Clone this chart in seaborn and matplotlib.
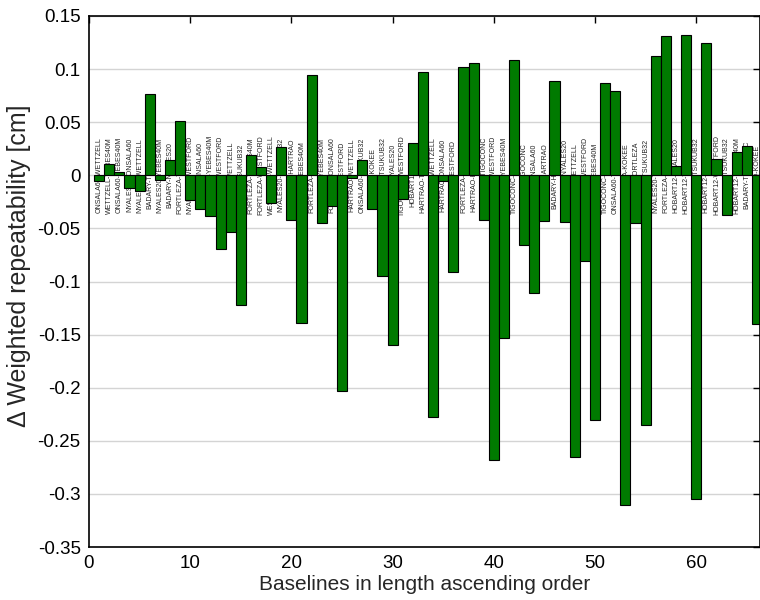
import numpy as np
import pandas as pd
import matplotlib
matplotlib.use("Agg")
import matplotlib.pyplot as plt
import seaborn as sns

# Baselines (sorted by length) and the change in weighted repeatability [cm]
baselines = [
    "ONSALA60-WETTZELL", "WETTZELL-YEBES40M", "ONSALA60-YEBES40M", "NYALES20-ONSALA60",
    "NYALES20-WETTZELL", "BADARY-TSUKUB32", "NYALES20-YEBES40M", "BADARY-NYALES20",
    "FORTLEZA-TIGOCONC", "NYALES20-WESTFORD", "BADARY-ONSALA60", "WESTFORD-YEBES40M",
    "ONSALA60-WESTFORD", "BADARY-WETTZELL", "KOKEE-TSUKUB32", "FORTLEZA-YEBES40M",
    "FORTLEZA-WESTFORD", "WESTFORD-WETTZELL", "NYALES20-TSUKUB32", "FORTLEZA-HARTRAO",
    "BADARY-YEBES40M", "FORTLEZA-WETTZELL", "HARTRAO-YEBES40M", "FORTLEZA-ONSALA60",
    "KOKEE-WESTFORD", "HARTRAO-WETTZELL", "ONSALA60-TSUKUB32", "BADARY-KOKEE",
    "HOBART12-TSUKUB32", "KOKEE-NYALES20", "TIGOCONC-WESTFORD", "HOBART12-KOKEE",
    "HARTRAO-TIGOCONC", "TSUKUB32-WETTZELL", "HARTRAO-ONSALA60", "BADARY-WESTFORD",
    "FORTLEZA-NYALES20", "HARTRAO-HOBART12", "HOBART12-TIGOCONC", "TSUKUB32-WESTFORD",
    "TSUKUB32-YEBES40M", "TIGOCONC-YEBES40M", "KOKEE-TIGOCONC", "KOKEE-ONSALA60",
    "BADARY-HARTRAO", "BADARY-HOBART12", "HARTRAO-NYALES20", "KOKEE-WETTZELL",
    "HARTRAO-WESTFORD", "KOKEE-YEBES40M", "TIGOCONC-WETTZELL", "ONSALA60-TIGOCONC",
    "FORTLEZA-KOKEE", "BADARY-FORTLEZA", "HARTRAO-TSUKUB32", "NYALES20-TIGOCONC",
    "FORTLEZA-HOBART12", "HOBART12-NYALES20", "HOBART12-WETTZELL", "FORTLEZA-TSUKUB32",
    "HOBART12-ONSALA60", "HOBART12-WESTFORD", "TIGOCONC-TSUKUB32", "HOBART12-YEBES40M",
    "BADARY-TIGOCONC", "HARTRAO-KOKEE",
]
delta = [
    -0.005, 0.011, 0.003, -0.012, -0.015, 0.077, -0.004, 0.014, 0.051, -0.023,
    -0.032, -0.038, -0.069, -0.053, -0.122, 0.019, 0.008, -0.026, 0.027, -0.042,
    -0.139, 0.094, -0.045, -0.029, -0.203, -0.003, 0.014, -0.032, -0.095, -0.160,
    -0.022, 0.030, 0.097, -0.228, -0.005, -0.091, 0.102, 0.106, -0.042, -0.268,
    -0.153, 0.109, -0.066, -0.111, -0.043, 0.089, -0.044, -0.265, -0.081, -0.230,
    0.087, 0.079, -0.310, -0.045, -0.235, 0.112, 0.131, 0.009, 0.132, -0.305,
    0.125, 0.015, -0.037, 0.022, 0.028, -0.140,
]
baseline_no = list(range(1, len(delta) + 1))

yticks = [0.15, 0.1, 0.05, 0, -0.05, -0.1, -0.15, -0.2, -0.25, -0.3, -0.35]
ytick_labels = ["0.15", "0.1", "0.05", "0", "-0.05", "-0.1", "-0.15", "-0.2",
                "-0.25", "-0.3", "-0.35"]
xticks = [0, 10, 20, 30, 40, 50, 60]

sns.set_style("white")
plt.rcParams['font.family'] = ['Liberation Sans', 'DejaVu Sans']

fig = plt.figure(figsize=(7.6, 6.0), dpi=100)
ax = fig.add_axes([89 / 760, 53 / 600, 671 / 760, 531 / 600])

df = pd.DataFrame({"baseline": baseline_no, "delta": delta, "name": baselines})
sns.barplot(data=df, x="baseline", y="delta", native_scale=True, width=1.0,
            color="#007a00", saturation=1, edgecolor="black", linewidth=0.8,
            errorbar=None, ax=ax, zorder=2)

for xi, name in zip(df["baseline"], df["name"]):
    ax.text(xi, 0, name, rotation=90, ha="center", va="center", fontsize=5,
            color="#222222", zorder=1)

ax.set_xlim(0, 66.3)
ax.set_ylim(-0.35, 0.15)
ax.set_yticks(yticks)
ax.set_yticklabels(ytick_labels)
ax.set_xticks(xticks)
ax.set_xticklabels([str(t) for t in xticks])
ax.yaxis.grid(True, color="#d4d4d4", linewidth=1.0)
ax.xaxis.grid(False)
ax.set_axisbelow(True)
ax.tick_params(direction="in", top=True, right=True, length=5, width=1,
               labelsize=13.5, colors="black", pad=6)
for s in ax.spines.values():
    s.set_visible(True)
    s.set_color("black")
    s.set_linewidth(1.2)

ax.set_xlabel("Baselines in length ascending order", fontsize=15, labelpad=2)
ax.set_ylabel("\u0394 Weighted repeatability [cm]", fontsize=18)
ax.yaxis.set_label_coords(-0.086, 0.53)

fig.savefig("out.png", dpi=100)
